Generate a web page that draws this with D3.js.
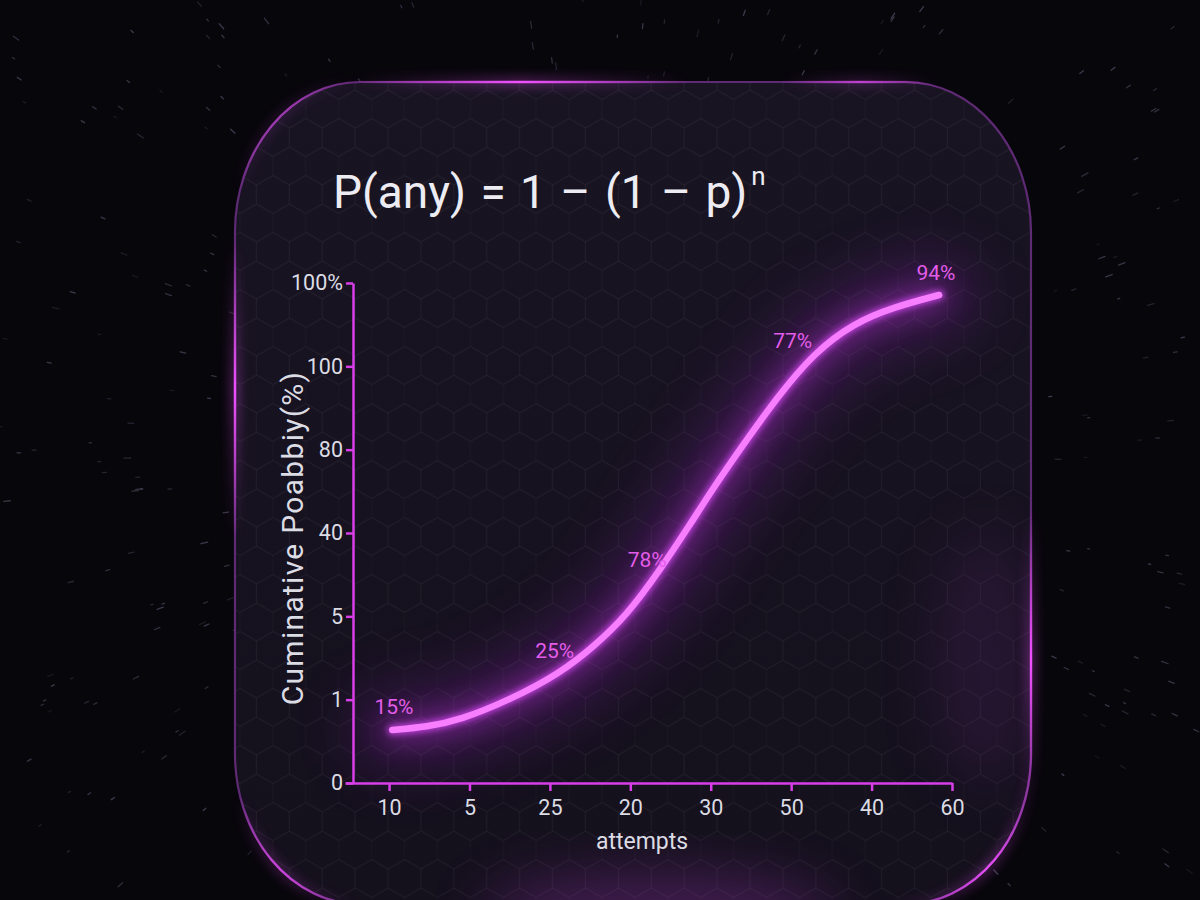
<!DOCTYPE html>
<html><head><meta charset="utf-8">
<script src="https://cdn.jsdelivr.net/npm/d3@7"></script>
<style>html,body{margin:0;padding:0;background:#07060b;overflow:hidden}svg{display:block}</style>
</head><body><svg id="c" width="1200" height="900"></svg>
<script>
// ---------- data ----------
const titleMain = "P(any) = 1 \u2013 (1 \u2013 p)";
const titleSup = "n";
const xLabel = "attempts";
const yLabel = "Cuminative Poabbiy(%)";
const xTicks = ["10","5","25","20","30","50","40","60"];
const yTicks = ["0","1","5","40","80","100","100%"];
// curve: x in tick-index units, y in percent
const curveX = [0.04,0.47,0.88,1.50,2.13,2.54,2.96,3.37,3.78,3.99,4.40,4.82,5.28,5.78,6.28,6.84];
const curveY = [10.6,11.2,12.6,16.6,22.0,27.2,33.6,42.6,52.6,58.0,67.6,77.0,86.0,92.0,95.2,97.6];
const annText = ["15%","25%","78%","77%","94%"];
const annX = [0.06,2.06,3.21,5.02,6.80];
const annY = [13.8,25.0,43.2,87.0,100.6];

// ---------- setup ----------
const W = 1200, H = 900;
const svg = d3.select("#c");
const defs = svg.append("defs");
const FONT = "Roboto, 'Noto Sans', sans-serif";

svg.append("rect").attr("width", W).attr("height", H).attr("fill", "#07060b");

// background streaks (deterministic pseudo-random decoration)
let seed = 12345;
const rnd = () => (seed = (seed * 1103515245 + 12345) % 2147483648) / 2147483648;
const gStars = svg.append("g");
for (let i = 0; i < 480; i++) {
  const px = rnd() * W, py = rnd() * H;
  const ang = Math.atan2(py - 450, px - 600);
  const len = 2 + rnd() * 5;
  gStars.append("line")
    .attr("x1", px).attr("y1", py)
    .attr("x2", px + Math.cos(ang) * len).attr("y2", py + Math.sin(ang) * len)
    .attr("stroke", "#8a86a8").attr("stroke-width", 1.3)
    .attr("stroke-linecap", "round")
    .attr("opacity", 0.12 + rnd() * 0.3);
}

// filters
const mkBlur = (id, sd) => {
  const f = defs.append("filter").attr("id", id)
    .attr("x", "-50%").attr("y", "-50%").attr("width", "200%").attr("height", "200%");
  f.append("feGaussianBlur").attr("stdDeviation", sd);
};
mkBlur("b3", 3); mkBlur("b6", 6); mkBlur("b14", 14); mkBlur("b30", 30); mkBlur("b2", 2);

// card geometry
const cx0 = 235, cy0 = 82, cx1 = 1031, cy1 = 904, crx = 125, cry = 150;
const cardPath = `M${cx0+crx},${cy0} H${cx1-crx} A${crx} ${cry} 0 0 1 ${cx1},${cy0+cry} V${cy1-cry} A${crx} ${cry} 0 0 1 ${cx1-crx},${cy1} H${cx0+crx} A${crx} ${cry} 0 0 1 ${cx0},${cy1-cry} V${cy0+cry} A${crx} ${cry} 0 0 1 ${cx0+crx},${cy0} Z`;

const cardGrad = defs.append("linearGradient").attr("id", "cardFill").attr("x1", 0).attr("y1", 0).attr("x2", 0).attr("y2", 1);
cardGrad.append("stop").attr("offset", 0).attr("stop-color", "#181422");
cardGrad.append("stop").attr("offset", 1).attr("stop-color", "#14101c");

// hex pattern
const r = 19, hw = Math.sqrt(3) * r;
const pat = defs.append("pattern").attr("id", "hex").attr("patternUnits", "userSpaceOnUse")
  .attr("width", hw).attr("height", 3 * r).attr("x", 240).attr("y", 90);
const hexPts = (cx, cy) => d3.range(6).map(k => {
  const a = Math.PI / 180 * (60 * k - 90);
  return [cx + r * Math.cos(a), cy + r * Math.sin(a)];
});
[[hw/2, r], [0, 2.5*r], [hw, 2.5*r], [0, -0.5*r], [hw, -0.5*r]].forEach(([x, y]) => {
  pat.append("path").attr("d", "M" + hexPts(x, y).join("L") + "Z")
    .attr("fill", "none").attr("stroke", "#ffffff").attr("stroke-opacity", 0.022).attr("stroke-width", 1);
});

const clip = defs.append("clipPath").attr("id", "cardClip");
clip.append("path").attr("d", cardPath);

svg.append("path").attr("d", cardPath).attr("fill", "url(#cardFill)");
svg.append("path").attr("d", cardPath).attr("fill", "url(#hex)");

const inner = svg.append("g").attr("clip-path", "url(#cardClip)");
// soft glows inside card
inner.append("ellipse").attr("cx", 660).attr("cy", 915).attr("rx", 180).attr("ry", 40)
  .attr("fill", "#b23ad0").attr("opacity", 0.3).attr("filter", "url(#b30)");
inner.append("ellipse").attr("cx", 985).attr("cy", 660).attr("rx", 50).attr("ry", 130)
  .attr("fill", "#6a2a80").attr("opacity", 0.2).attr("filter", "url(#b30)");

// border: dim base + radial hotspots
svg.append("path").attr("d", cardPath).attr("fill", "none")
  .attr("stroke", "#5e2a74").attr("stroke-width", 2.2);
const hot = [
  {x: 520, y: 82, r: 170, o: 1},
  {x: 235, y: 390, r: 150, o: 1},
  {x: 1031, y: 660, r: 150, o: 1},
  {x: 990, y: 870, r: 110, o: 0.9},
  {x: 270, y: 880, r: 90, o: 0.8},
  {x: 860, y: 82, r: 80, o: 0.6},
  {x: 300, y: 140, r: 80, o: 0.6}
];
hot.forEach((h, i) => {
  const g = defs.append("radialGradient").attr("id", "hot" + i).attr("gradientUnits", "userSpaceOnUse")
    .attr("cx", h.x).attr("cy", h.y).attr("r", h.r);
  g.append("stop").attr("offset", 0).attr("stop-color", "#f050ff").attr("stop-opacity", h.o);
  g.append("stop").attr("offset", 1).attr("stop-color", "#f050ff").attr("stop-opacity", 0);
  svg.append("path").attr("d", cardPath).attr("fill", "none")
    .attr("stroke", `url(#hot${i})`).attr("stroke-width", 6).attr("opacity", 0.5).attr("filter", "url(#b6)");
  svg.append("path").attr("d", cardPath).attr("fill", "none")
    .attr("stroke", `url(#hot${i})`).attr("stroke-width", 2.4);
});

// ---------- scales ----------
const x = d3.scalePoint().domain(xTicks).range([345, 952]).padding(0.274).align(1);
const y = d3.scalePoint().domain(yTicks).range([783, 283]);
const xi = d3.scaleLinear().domain([0, xTicks.length - 1]).range([x(xTicks[0]), x(xTicks[xTicks.length - 1])]);
const yv = d3.scaleLinear().domain([0, 100]).range([783, 283]);

const AX = "#d93ee8";

// curve
const pts = curveX.map((v, i) => [xi(v), yv(curveY[i])]);
const line = d3.line().curve(d3.curveBasis);
const gCurve = inner.append("g");
gCurve.append("path").attr("d", line(pts)).attr("fill", "none")
  .attr("stroke", "#8a22b0").attr("stroke-width", 80).attr("stroke-linecap", "round")
  .attr("opacity", 0.3).attr("filter", "url(#b30)");
gCurve.append("path").attr("d", line(pts)).attr("fill", "none")
  .attr("stroke", "#c93ae8").attr("stroke-width", 18).attr("stroke-linecap", "round")
  .attr("opacity", 0.5).attr("filter", "url(#b14)");
gCurve.append("path").attr("d", line(pts)).attr("fill", "none")
  .attr("stroke", "#e04cff").attr("stroke-width", 10).attr("stroke-linecap", "round")
  .attr("opacity", 0.75).attr("filter", "url(#b3)");
gCurve.append("path").attr("d", line(pts)).attr("fill", "none")
  .attr("stroke", "#f77eff").attr("stroke-width", 6.5).attr("stroke-linecap", "round");

// axes
const gx = svg.append("g").attr("transform", `translate(0,${y(yTicks[0])})`)
  .call(d3.axisBottom(x).tickSize(8).tickSizeOuter(0).tickPadding(9));
const gy = svg.append("g").attr("transform", `translate(353,0)`)
  .call(d3.axisLeft(y).tickSize(7).tickSizeOuter(0).tickPadding(3));
[gx, gy].forEach(g => {
  g.select(".domain").attr("stroke", AX).attr("stroke-width", 2.5);
  g.selectAll(".tick line").attr("stroke", AX).attr("stroke-width", 2.5);
  g.selectAll(".tick text").attr("fill", "#dcdce4").attr("font-family", FONT).attr("font-size", 21.5);
});

// annotations
inner.append("g").selectAll("text").data(annText).join("text")
  .attr("x", (d, i) => xi(annX[i])).attr("y", (d, i) => yv(annY[i]))
  .attr("text-anchor", "middle").attr("font-family", FONT).attr("font-size", 21)
  .attr("fill", "#e35ce9").text(d => d);

// title
const t = svg.append("text").attr("x", 333).attr("y", 208)
  .attr("font-family", FONT).attr("font-size", 46).attr("fill", "#ececf2")
  .attr("word-spacing", 3);
t.append("tspan").text(titleMain);
t.append("tspan").attr("dx", 4).attr("dy", -23).attr("font-size", 26).text(titleSup);

// axis titles
svg.append("text").attr("x", 642).attr("y", 849).attr("text-anchor", "middle")
  .attr("font-family", FONT).attr("font-size", 23).attr("fill", "#dcdce4").text(xLabel);
svg.append("text").attr("transform", "translate(303,538) rotate(-90)").attr("text-anchor", "middle")
  .attr("font-family", FONT).attr("font-size", 30).attr("letter-spacing", 1.3)
  .attr("fill", "#dcdce4").text(yLabel);
</script></body></html>
